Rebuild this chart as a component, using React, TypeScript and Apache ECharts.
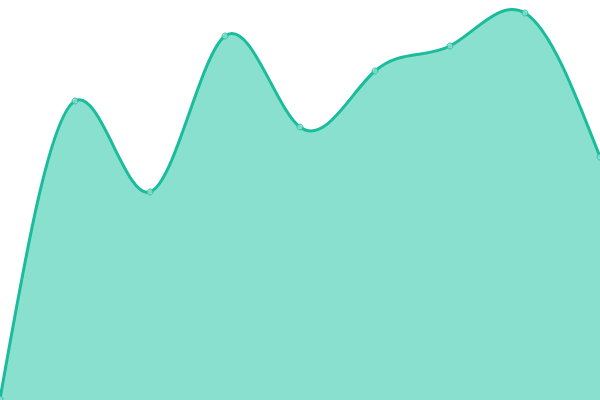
import React, { useEffect, useRef } from 'react';
import * as echarts from 'echarts';

const categories = ['1', '2', '3', '4', '5', '6', '7', '8', '9'];
const values = [1, 299, 208, 364, 273, 329, 354, 387, 243];

// natural cubic spline control points (same as d3.curveNatural)
function controlPoints(x: number[]): [number[], number[]] {
  const n = x.length - 1;
  const a = new Array(n);
  const b = new Array(n);
  const r = new Array(n);
  a[0] = 0;
  b[0] = 2;
  r[0] = x[0] + 2 * x[1];
  for (let i = 1; i < n - 1; ++i) {
    a[i] = 1;
    b[i] = 4;
    r[i] = 4 * x[i] + 2 * x[i + 1];
  }
  a[n - 1] = 2;
  b[n - 1] = 7;
  r[n - 1] = 8 * x[n - 1] + x[n];
  for (let i = 1; i < n; ++i) {
    const m = a[i] / b[i - 1];
    b[i] -= m;
    r[i] -= m * r[i - 1];
  }
  a[n - 1] = r[n - 1] / b[n - 1];
  for (let i = n - 2; i >= 0; --i) a[i] = (r[i] - a[i + 1]) / b[i];
  b[n - 1] = (x[n] + a[n - 1]) / 2;
  for (let i = 0; i < n - 1; ++i) b[i] = 2 * x[i + 1] - a[i + 1];
  return [a, b];
}

const App: React.FC = () => {
  const chartRef = useRef<HTMLDivElement>(null);

  useEffect(() => {
    document.body.style.margin = '0';
    const chart = echarts.init(chartRef.current!, undefined, { renderer: 'svg' });

    chart.setOption({
      animation: false,
      grid: { left: 0, right: 0, top: 0, bottom: 0 },
      xAxis: {
        type: 'category',
        data: categories,
        boundaryGap: false,
        show: false,
      },
      yAxis: {
        type: 'value',
        min: 0,
        max: 400,
        show: false,
      },
      series: [
        {
          type: 'custom',
          coordinateSystem: 'cartesian2d',
          clip: false,
          silent: true,
          data: values.map((v, i) => [i, v]),
          renderItem: (params: any, api: any) => {
            if (params.dataIndex !== 0) return null;
            const pts = values.map((v, i) => api.coord([i, v]));
            const xs = pts.map((p: number[]) => p[0]);
            const ys = pts.map((p: number[]) => p[1]);
            const [ax, bx] = controlPoints(xs);
            const [ay, by] = controlPoints(ys);
            const n = xs.length - 1;
            let d = `M${xs[0]},${ys[0]}`;
            for (let i = 0; i < n; i++) {
              d += `C${ax[i]},${ay[i]} ${bx[i]},${by[i]} ${xs[i + 1]},${ys[i + 1]}`;
            }
            const base = api.coord([0, 0])[1];
            const area = d + `L${xs[n]},${base}L${xs[0]},${base}Z`;
            return {
              type: 'group',
              children: [
                { type: 'path', shape: { pathData: area }, style: { fill: '#8ae0cf' } },
                {
                  type: 'path',
                  shape: { pathData: d },
                  style: { fill: 'none', stroke: '#1abc9c', lineWidth: 3 },
                },
              ],
            };
          },
        },
        {
          type: 'scatter',
          data: values,
          symbol: 'circle',
          symbolSize: 6,
          silent: true,
          itemStyle: { color: '#8ce0cf', borderColor: '#1abc9c', borderWidth: 1 },
        },
      ],
    });

    return () => {
      chart.dispose();
    };
  }, []);

  return <div ref={chartRef} style={{ width: '600px', height: '400px' }} />;
};

export default App;
